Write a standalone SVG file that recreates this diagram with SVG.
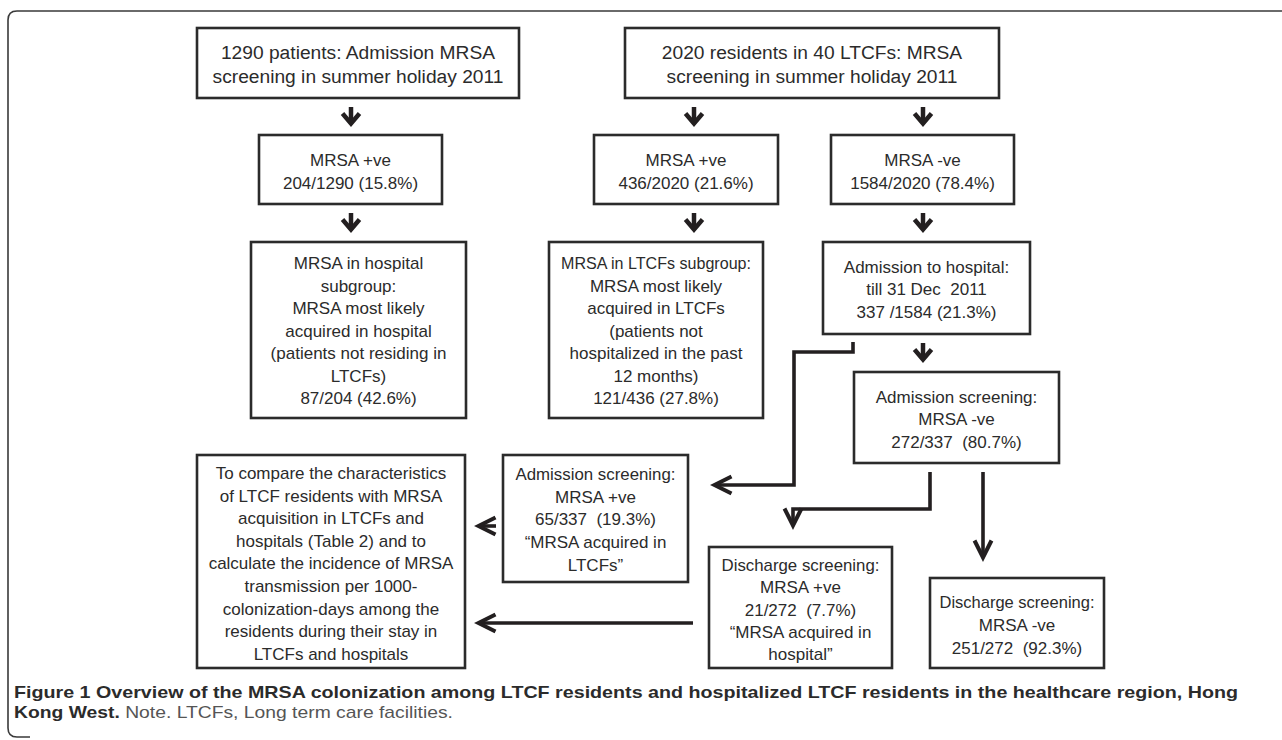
<svg xmlns="http://www.w3.org/2000/svg" width="1282" height="740" viewBox="0 0 1282 740">
<style>
.box{fill:#fff;stroke:#2b2b2b;stroke-width:2.6}
.t{font-family:"Liberation Sans",Arial,sans-serif;font-size:17px;fill:#2b2b2b;text-anchor:middle}
.tl{font-size:19.2px}
.con{fill:none;stroke:#231f20;stroke-width:3.6;stroke-linejoin:miter}
.sm{fill:none;stroke:#231f20;stroke-width:4.5}
.cap{font-family:"Liberation Sans",Arial,sans-serif;font-size:17px;fill:#2b2b2b}
</style>
<defs>
<marker id="ah" markerUnits="userSpaceOnUse" markerWidth="26" markerHeight="26" viewBox="0 0 26 26" refX="20" refY="13" orient="auto">
<path d="M3,4.5 L20,13 L3,21.5" fill="none" stroke="#231f20" stroke-width="4"/>
</marker>
<marker id="ahs" markerUnits="userSpaceOnUse" markerWidth="26" markerHeight="26" viewBox="0 0 26 26" refX="18" refY="13" orient="auto">
<path d="M8,4.5 L18,13 L8,21.5" fill="none" stroke="#231f20" stroke-width="4.5"/>
</marker>
</defs>
<rect width="1282" height="740" fill="#fff"/>
<path d="M1282,11 H17 Q8,11 8,20 V728 Q8,737 17,737 H30" fill="none" stroke="#3a3a3a" stroke-width="1.6"/>

<g id="connectors">
<path class="sm" d="M351,107 V123.5" marker-end="url(#ahs)"/>
<path class="sm" d="M694,107 V123.5" marker-end="url(#ahs)"/>
<path class="sm" d="M923,107 V123.5" marker-end="url(#ahs)"/>
<path class="sm" d="M351,213 V229.5" marker-end="url(#ahs)"/>
<path class="sm" d="M694,213 V229.5" marker-end="url(#ahs)"/>
<path class="sm" d="M923,213 V229.5" marker-end="url(#ahs)"/>
<path class="sm" d="M923,343 V359.5" marker-end="url(#ahs)"/>
<path class="con" d="M853,342 V352 H794 V485 H714.5" marker-end="url(#ah)"/>
<path class="con" d="M930,472 V509 H793 V525.5" marker-end="url(#ah)"/>
<path class="con" d="M983,472 V557.5" marker-end="url(#ah)"/>
<path class="con" d="M693,623 H478.5" marker-end="url(#ah)"/>
<path class="con" d="M496,526 H478.5" marker-end="url(#ah)"/>
</g>

<g id="node-1290">
<rect class="box" x="197" y="28" width="322" height="70"/>
<text class="t tl" x="358" y="59">1290 patients: Admission MRSA</text>
<text class="t tl" x="358" y="83">screening in summer holiday 2011</text>
</g>
<g id="node-2020">
<rect class="box" x="625" y="28" width="374" height="70"/>
<text class="t tl" x="812" y="59">2020 residents in 40 LTCFs: MRSA</text>
<text class="t tl" x="812" y="83">screening in summer holiday 2011</text>
</g>
<g id="node-pos1290">
<rect class="box" x="259" y="135" width="183" height="69"/>
<text class="t" x="350.5" y="166">MRSA +ve</text>
<text class="t" x="350.5" y="189">204/1290 (15.8%)</text>
</g>
<g id="node-pos2020">
<rect class="box" x="594" y="135" width="184" height="69"/>
<text class="t" x="686" y="166">MRSA +ve</text>
<text class="t" x="686" y="189">436/2020 (21.6%)</text>
</g>
<g id="node-neg2020">
<rect class="box" x="831" y="135" width="183" height="69"/>
<text class="t" x="922.5" y="166">MRSA -ve</text>
<text class="t" x="922.5" y="189">1584/2020 (78.4%)</text>
</g>
<g id="node-hospital-subgroup">
<rect class="box" x="251" y="242" width="215" height="176"/>
<text class="t" x="358.5" y="269">MRSA in hospital</text>
<text class="t" x="358.5" y="291.5">subgroup:</text>
<text class="t" x="358.5" y="314">MRSA most likely</text>
<text class="t" x="358.5" y="336.5">acquired in hospital</text>
<text class="t" x="358.5" y="359">(patients not residing in</text>
<text class="t" x="358.5" y="381.5">LTCFs)</text>
<text class="t" x="358.5" y="404">87/204 (42.6%)</text>
</g>
<g id="node-ltcf-subgroup">
<rect class="box" x="549" y="242" width="214" height="176"/>
<text class="t" x="656" y="269" textLength="190" lengthAdjust="spacingAndGlyphs">MRSA in LTCFs subgroup:</text>
<text class="t" x="656" y="291.5">MRSA most likely</text>
<text class="t" x="656" y="314">acquired in LTCFs</text>
<text class="t" x="656" y="336.5">(patients not</text>
<text class="t" x="656" y="359">hospitalized in the past</text>
<text class="t" x="656" y="381.5">12 months)</text>
<text class="t" x="656" y="404">121/436 (27.8%)</text>
</g>
<g id="node-admission">
<rect class="box" x="823" y="242" width="207" height="92"/>
<text class="t" x="926.5" y="273">Admission to hospital:</text>
<text class="t" x="926.5" y="295" xml:space="preserve">till 31 Dec  2011</text>
<text class="t" x="926.5" y="318">337 /1584 (21.3%)</text>
</g>
<g id="node-adm-neg">
<rect class="box" x="854" y="372" width="205" height="91"/>
<text class="t" x="956.5" y="403">Admission screening:</text>
<text class="t" x="956.5" y="425">MRSA -ve</text>
<text class="t" x="956.5" y="448" xml:space="preserve">272/337  (80.7%)</text>
</g>
<g id="node-adm-pos">
<rect class="box" x="503" y="455" width="185" height="127"/>
<text class="t" x="595.5" y="480" textLength="160" lengthAdjust="spacingAndGlyphs">Admission screening:</text>
<text class="t" x="595.5" y="503">MRSA +ve</text>
<text class="t" x="595.5" y="525" xml:space="preserve">65/337  (19.3%)</text>
<text class="t" x="595.5" y="548">“MRSA acquired in</text>
<text class="t" x="595.5" y="571">LTCFs”</text>
</g>
<g id="node-compare">
<rect class="box" x="197" y="455" width="268" height="213"/>
<text class="t" x="331" y="479">To compare the characteristics</text>
<text class="t" x="331" y="502">of LTCF residents with MRSA</text>
<text class="t" x="331" y="524">acquisition in LTCFs and</text>
<text class="t" x="331" y="547">hospitals (Table 2) and to</text>
<text class="t" x="331" y="569">calculate the incidence of MRSA</text>
<text class="t" x="331" y="592">transmission per 1000-</text>
<text class="t" x="331" y="615">colonization-days among the</text>
<text class="t" x="331" y="637">residents during their stay in</text>
<text class="t" x="331" y="660">LTCFs and hospitals</text>
</g>
<g id="node-dis-pos">
<rect class="box" x="709" y="547" width="183" height="121"/>
<text class="t" x="800.5" y="571" textLength="158" lengthAdjust="spacingAndGlyphs">Discharge screening:</text>
<text class="t" x="800.5" y="593">MRSA +ve</text>
<text class="t" x="800.5" y="616" xml:space="preserve">21/272  (7.7%)</text>
<text class="t" x="800.5" y="638">“MRSA acquired in</text>
<text class="t" x="800.5" y="660">hospital”</text>
</g>
<g id="node-dis-neg">
<rect class="box" x="930" y="578" width="174" height="90"/>
<text class="t" x="1017" y="608" textLength="155" lengthAdjust="spacingAndGlyphs">Discharge screening:</text>
<text class="t" x="1017" y="631">MRSA -ve</text>
<text class="t" x="1017" y="654" xml:space="preserve">251/272  (92.3%)</text>
</g>

<g id="caption">
<text class="cap" x="14" y="698" font-weight="bold" textLength="1224" lengthAdjust="spacingAndGlyphs">Figure 1 Overview of the MRSA colonization among LTCF residents and hospitalized LTCF residents in the healthcare region, Hong</text>
<text class="cap" x="14" y="718" textLength="439" lengthAdjust="spacingAndGlyphs"><tspan font-weight="bold">Kong West.</tspan><tspan fill="#555"> Note. LTCFs, Long term care facilities.</tspan></text>
</g>
</svg>
